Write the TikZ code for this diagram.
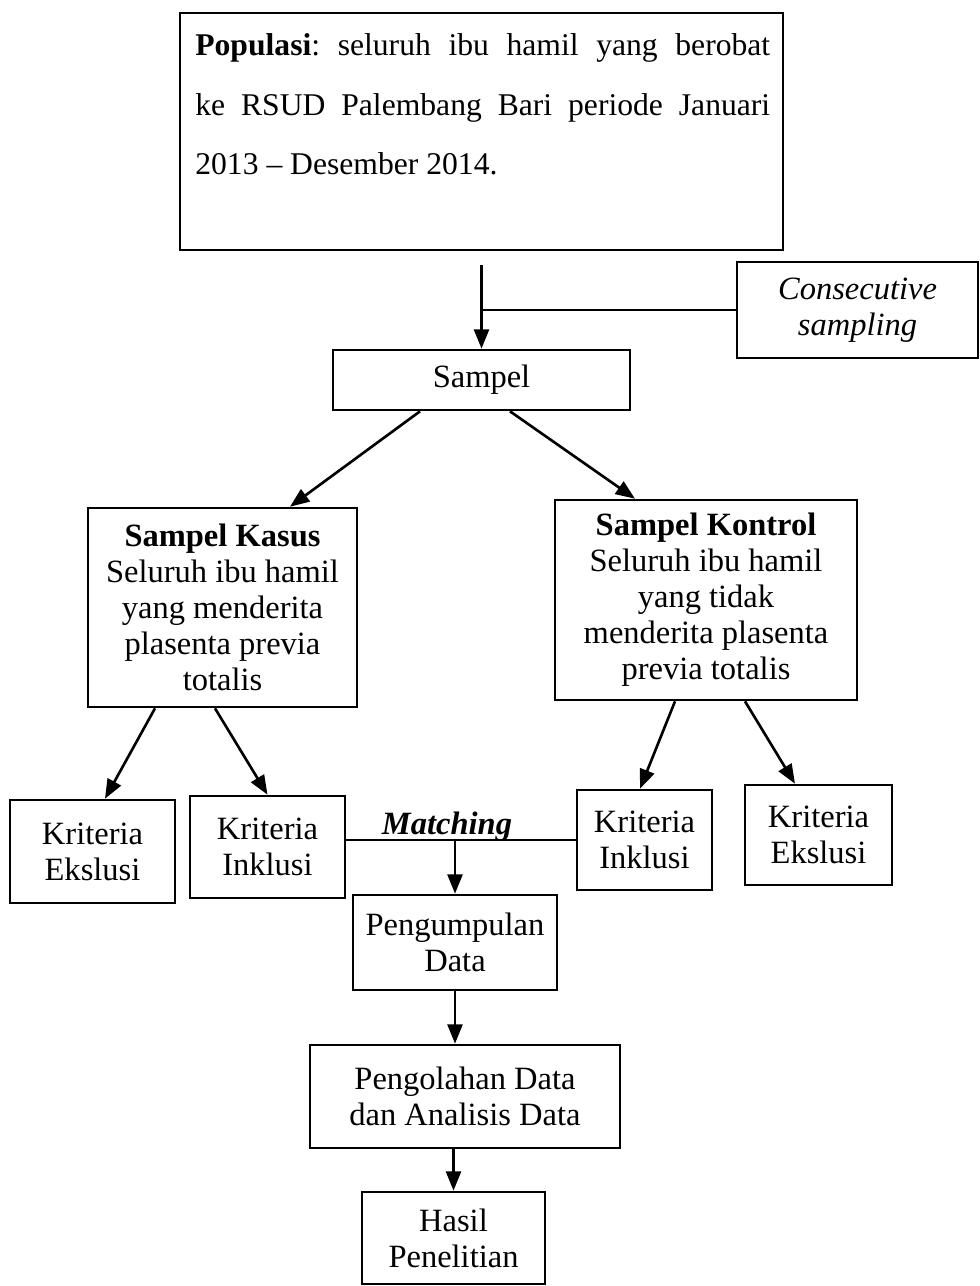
\documentclass[tikz,border=0pt]{standalone}
\usepackage{fontspec}
\setmainfont{Liberation Serif}
\usetikzlibrary{arrows.meta}
\frenchspacing

\tikzset{
	box/.style={draw, line width=1.5pt, align=center, inner sep=2pt, font=\fontsize{18.5}{20.5}\selectfont},
	arr/.style={line width=1.5pt, -{Triangle[length=11pt,width=8.5pt]}},
	link/.style={line width=1.5pt}
}

\begin{document}
\begin{tikzpicture}[x=0.02cm, y=-0.02cm]
	\useasboundingbox (0,0) rectangle (980,1286);

	\node[box, minimum width=12.06cm, minimum height=4.74cm] (pop) at (481.5,131.5) {};
	\node[anchor=north west, inner sep=0pt, text width=11.5cm, align=justify, font=\fontsize{18}{34}\selectfont] (poptext) at (195,33) {\textbf{Populasi}: seluruh ibu hamil yang berobat\linebreak ke RSUD Palembang Bari periode Januari\linebreak 2013 -- Desember 2014.};
	\node[box, minimum width=4.82cm, minimum height=1.92cm, font=\fontsize{18.5}{20.5}\selectfont\itshape] (cons) at (857.5,310) {Consecutive\\sampling};
	\node[box, minimum width=5.94cm, minimum height=1.2cm] (sampel) at (481.5,380) {Sampel};

	\node[box, minimum width=5.38cm, minimum height=3.98cm] (kasus) at (222.5,607.5) {\textbf{Sampel Kasus}\\Seluruh ibu hamil\\yang menderita\\plasenta previa\\totalis};
	\node[box, minimum width=6.04cm, minimum height=4cm] (kontrol) at (706,600) {\textbf{Sampel Kontrol}\\Seluruh ibu hamil\\yang tidak\\menderita plasenta\\previa totalis};

	\node[box, minimum width=3.3cm, minimum height=2.06cm] (eksA) at (92.5,851.5) {Kriteria\\Ekslusi};
	\node[box, minimum width=3.1cm, minimum height=2.04cm] (inkA) at (267.5,847) {Kriteria\\Inklusi};
	\node[box, minimum width=2.7cm, minimum height=2cm] (inkB) at (644.5,840) {Kriteria\\Inklusi};
	\node[box, minimum width=2.94cm, minimum height=2cm] (eksB) at (818.5,835) {Kriteria\\Ekslusi};

	\node[font=\fontsize{18.5}{20.5}\selectfont\bfseries\itshape, anchor=base] (match) at (447,834) {Matching};

	\node[box, minimum width=4.08cm, minimum height=1.9cm] (kumpul) at (455,942.5) {Pengumpulan\\Data};
	\node[box, minimum width=6.2cm, minimum height=2.06cm] (olah) at (465,1096.5) {Pengolahan Data\\dan Analisis Data};
	\node[box, minimum width=3.66cm, minimum height=1.84cm] (hasil) at (453.5,1238) {Hasil\\Penelitian};

	\draw[arr, shorten <=0.28cm] (pop.south) -- (sampel.north);
	\draw[link] (cons.west) -- (cons.west -| pop.south);

	\draw[arr] ([shift={(-61.5,0)}]sampel.south) -- ([shift={(67.5,0)}]kasus.north);
	\draw[arr] ([shift={(28.5,0)}]sampel.south) -- ([shift={(-71,0)}]kontrol.north);

	\draw[arr] ([shift={(-67.5,0)}]kasus.south) -- ([shift={(12.5,0)}]eksA.north);
	\draw[arr] ([shift={(-7.5,0)}]kasus.south) -- (inkA.north);
	\draw[arr] ([shift={(-31,0)}]kontrol.south) -- ([shift={(-4.5,0)}]inkB.north);
	\draw[arr] ([shift={(39,0)}]kontrol.south) -- ([shift={(-23.5,0)}]eksB.north);

	\draw[link] (inkB.west -| inkA.east) -- (inkB.west);
	\draw[arr] (kumpul.north |- inkB.west) -- (kumpul.north);
	\draw[arr] (kumpul.south) -- (kumpul.south |- olah.north);
	\draw[arr] (hasil.north |- olah.south) -- (hasil.north);
\end{tikzpicture}
\end{document}
